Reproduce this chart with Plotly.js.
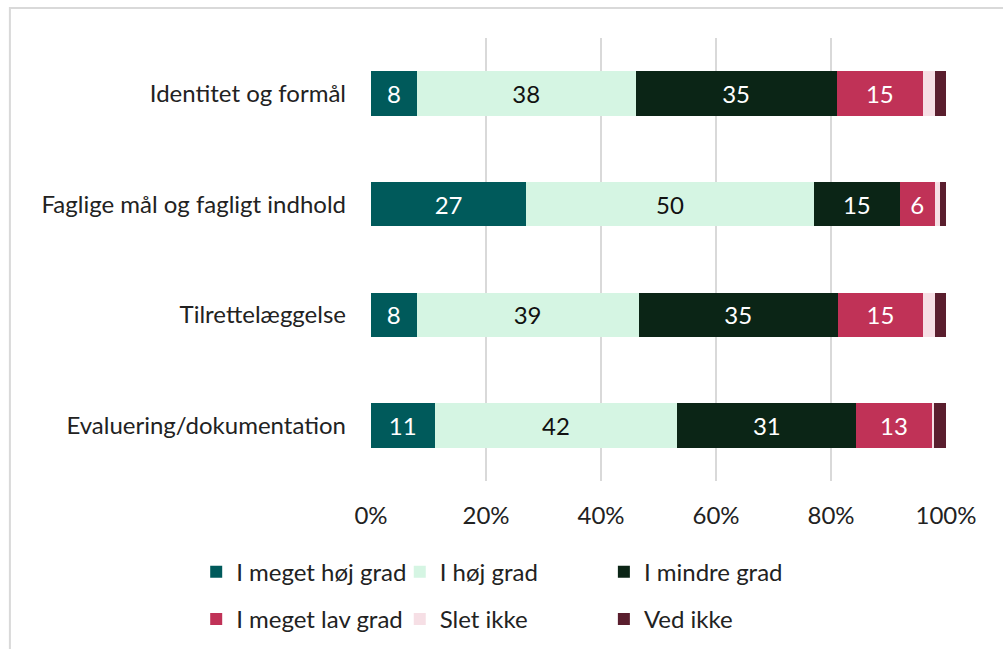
<!DOCTYPE html>
<html>
<head>
<meta charset="utf-8">
<script src="https://cdn.plot.ly/plotly-3.0.1.min.js"></script>
<style>html,body{margin:0;padding:0;background:#fff;}#chart{width:1003px;height:649px;}</style>
</head>
<body>
<div id="chart"></div>
<script>
const categories = ['Identitet og formål','Faglige mål og fagligt indhold','Tilrettelæggelse','Evaluering/dokumentation'];
const seriesNames = ['I meget høj grad','I høj grad','I mindre grad','I meget lav grad','Slet ikke','Ved ikke'];
const megetHoj = [8, 27, 8, 11];
const hoj = [38, 50, 39, 42];
const mindre = [35, 15, 35, 31];
const megetLav = [15, 6, 15, 13];
const sletIkke = [2, 1, 2, 0.5];
const vedIkke = [2, 1, 2, 2];
const xTickVals = [0, 20, 40, 60, 80, 100];
const xTickText = ['0%', '20%', '40%', '60%', '80%', '100%'];

const seriesValues = [megetHoj, hoj, mindre, megetLav, sletIkke, vedIkke];
const colors = ['#005A5B','#D5F5E3','#0B2516','#C03257','#F6DFE5','#5A1E2E'];
const textColors = ['#ffffff','#111111','#ffffff','#ffffff','#111111','#ffffff'];
const legendIds = ['legend','legend2','legend3','legend','legend2','legend3'];
const FONT = 'Lato, "Open Sans", sans-serif';
const FS = 24;

const traces = seriesValues.map((vals, i) => ({
  type: 'bar',
  orientation: 'h',
  name: seriesNames[i],
  y: categories,
  x: vals,
  marker: {color: colors[i], line: {width: 0}},
  text: vals.map(v => v >= 5 ? String(Math.round(v)) : ''),
  textposition: 'inside',
  insidetextanchor: 'middle',
  textangle: 0,
  constraintext: 'none',
  textfont: {color: textColors[i], size: FS, family: FONT},
  hoverinfo: 'name+x',
  legend: legendIds[i],
  legendgroup: 'g' + i
}));

const legendBase = {
  orientation: 'v',
  xref: 'paper',
  yref: 'container',
  yanchor: 'top',
  y: 0.153,
  xanchor: 'left',
  font: {size: FS, family: FONT, color: '#222'},
  tracegroupgap: 13,
  bgcolor: 'rgba(0,0,0,0)'
};

const layout = {
  width: 1003,
  height: 649,
  margin: {l: 371, r: 57, t: 38, b: 168},
  paper_bgcolor: '#ffffff',
  plot_bgcolor: '#ffffff',
  barmode: 'stack',
  barnorm: 'percent',
  bargap: 0.6,
  font: {family: FONT, color: '#222'},
  xaxis: {
    range: [0, 100],
    automargin: false,
    tickmode: 'array',
    tickvals: xTickVals,
    ticktext: xTickText,
    showgrid: true,
    gridcolor: '#d9d9d9',
    gridwidth: 1.5,
    zeroline: false,
    showline: false,
    ticks: '',
    ticklabelstandoff: 18,
    tickfont: {size: FS, family: FONT, color: '#222'},
    fixedrange: true
  },
  yaxis: {
    automargin: false,
    categoryorder: 'array',
    categoryarray: categories,
    autorange: 'reversed',
    showgrid: false,
    zeroline: false,
    showline: false,
    ticks: '',
    ticklabelstandoff: 24,
    tickfont: {size: FS, family: FONT, color: '#222'},
    fixedrange: true
  },
  showlegend: true,
  legend: Object.assign({}, legendBase, {x: -0.304}),
  legend2: Object.assign({}, legendBase, {x: 0.05}),
  legend3: Object.assign({}, legendBase, {x: 0.405}),
  shapes: [{
    type: 'rect', xref: 'paper', yref: 'paper',
    x0: -0.628, x1: 1.2, y0: -0.6, y1: 1.0677,
    line: {color: '#d9d9d9', width: 2},
    fillcolor: 'rgba(0,0,0,0)',
    layer: 'below'
  }]
};

Plotly.newPlot('chart', traces, layout, {displayModeBar: false, staticPlot: true});
</script>
</body>
</html>
